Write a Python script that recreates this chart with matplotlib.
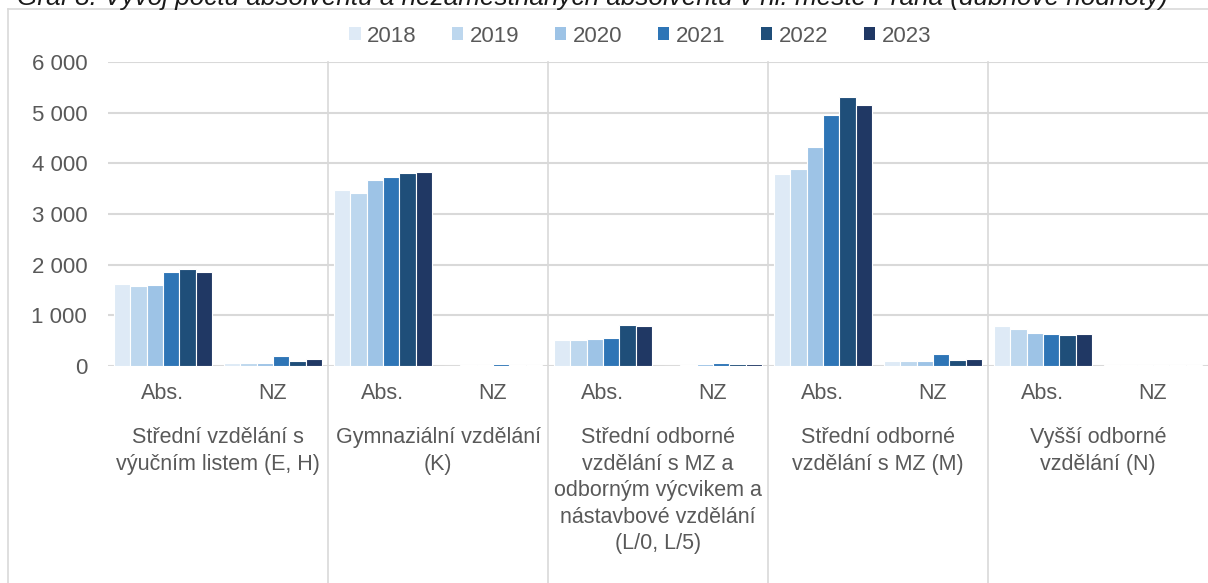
import matplotlib

matplotlib.use("Agg")
import matplotlib.pyplot as plt
import matplotlib.transforms as mtransforms
from matplotlib.lines import Line2D
from matplotlib.patches import Patch

plt.rcParams["font.family"] = ["Liberation Sans", "DejaVu Sans"]

TEXT = "#595959"
GRID = "#d9d9d9"

years = ["2018", "2019", "2020", "2021", "2022", "2023"]
colors = ["#deeaf6", "#bdd7ee", "#9dc3e6", "#2e75b6", "#1f4e79", "#203864"]
sub_labels = ["Abs.", "NZ"] * 5
group_labels = [
    "Střední vzdělání s\nvýučním listem (E, H)",
    "Gymnaziální vzdělání\n(K)",
    "Střední odborné\nvzdělání s MZ a\nodborným výcvikem a\nnástavbové vzdělání\n(L/0, L/5)",
    "Střední odborné\nvzdělání s MZ (M)",
    "Vyšší odborné\nvzdělání (N)",
]

# order: Abs./NZ for each of the five education groups
values_2018 = [1624, 59, 3467, 8, 507, 5, 3787, 92, 783, 10]
values_2019 = [1579, 59, 3421, 12, 507, 12, 3893, 92, 737, 12]
values_2020 = [1605, 59, 3665, 15, 526, 40, 4327, 92, 658, 15]
values_2021 = [1862, 190, 3724, 40, 546, 60, 4947, 243, 638, 22]
values_2022 = [1908, 105, 3809, 18, 802, 33, 5315, 118, 618, 20]
values_2023 = [1862, 131, 3835, 18, 783, 33, 5144, 145, 638, 20]
series = [values_2018, values_2019, values_2020, values_2021, values_2022, values_2023]

fig = plt.figure(figsize=(12.08, 5.83), dpi=100)
ax = fig.add_axes([108 / 1208, 1 - 366 / 583, 1100 / 1208, 304 / 583])

n = len(years)
cluster = 0.89
bw = cluster / n
for i, (year, vals, col) in enumerate(zip(years, series, colors)):
    xs = [k - cluster / 2 + bw * (i + 0.5) for k in range(len(vals))]
    ax.bar(xs, vals, width=bw, color=col, edgecolor="white", linewidth=0.8,
           label=year, zorder=3)

ax.set_xlim(-0.5, len(sub_labels) - 0.5)
ax.set_ylim(0, 6000)
ax.set_yticks(range(0, 6001, 1000))
ax.set_yticklabels([f"{v:,}".replace(",", " ") for v in range(0, 6001, 1000)])
ax.set_xticks(range(len(sub_labels)))
ax.set_xticklabels(sub_labels)
ax.tick_params(axis="both", length=0, colors=TEXT)
ax.tick_params(axis="x", pad=12, labelsize=15.5)
ax.tick_params(axis="y", pad=15, labelsize=16)
ax.grid(axis="y", color=GRID, linewidth=1.5, zorder=0)
for spine in ax.spines.values():
    spine.set_visible(False)

# group separators running down to the bottom of the figure
for k in range(1, len(group_labels)):
    ax.axvline(k * 2 - 0.5, ymin=-0.75, ymax=1, color=GRID, linewidth=1.2,
               clip_on=False, zorder=1)

trans = mtransforms.blended_transform_factory(ax.transData, fig.transFigure)
for g, label in enumerate(group_labels):
    ax.text(g * 2 + 0.5, 1 - 427 / 583, label, transform=trans, ha="center",
            va="top", fontsize=15.5, color=TEXT, linespacing=1.35)

# outer chart frame
x0 = 8 / 1208
y1 = 1 - 9 / 583
fig.add_artist(Line2D([x0, x0], [0, y1], color=GRID, linewidth=1.2))
fig.add_artist(Line2D([x0, 1], [y1, y1], color=GRID, linewidth=1.2))

fig.text(17 / 1208, 1 - 5 / 583,
         "Graf 8: Vývoj počtu absolventů a nezaměstnaných absolventů v hl. městě Praha (dubnové hodnoty)",
         ha="left", va="baseline", fontsize=18.8, style="italic", color="#1a1a1a")

handles = [Patch(facecolor=c, edgecolor="none") for c in colors]
fig.legend(handles, years, loc="center", bbox_to_anchor=(0.53, 1 - 36 / 583),
           ncol=6, frameon=False, fontsize=16, handlelength=0.5, handleheight=0.5,
           handletextpad=0.3, columnspacing=1.6, labelcolor=TEXT)

fig.savefig("out.png", dpi=100)
